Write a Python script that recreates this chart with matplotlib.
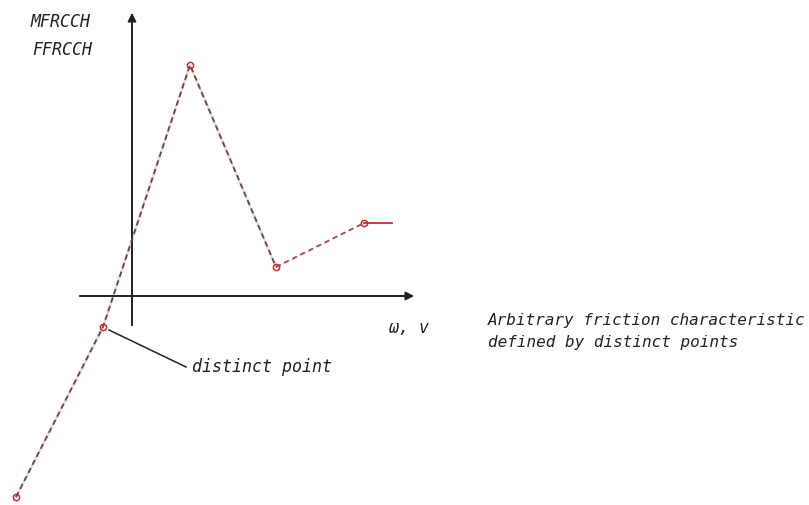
import matplotlib.pyplot as plt

# friction characteristic, distinct points (omega/v , MFRCCH/FFRCCH)
omega = [-11.6, -2.9, 5.8, 14.4, 23.2]
frc = [-20.1, -3.1, 23.1, 2.9, 7.3]
omega_end = 26.0  # constant continuation after last point

fig = plt.figure(figsize=(8.09, 5.05), dpi=100)
ax = fig.add_axes([0, 0, 1, 1])
ax.set_xlim(-13.2, 67.7)
ax.set_ylim(-20.9, 29.6)
ax.axis('off')

font = dict(family='DejaVu Sans Mono', style='oblique', fontsize=12, color='#222222')

# axes with arrows
ax.annotate('', xy=(28.5, 0), xytext=(-5.5, 0),
            arrowprops=dict(arrowstyle='-|>', color='#222222', lw=1.4, mutation_scale=12))
ax.annotate('', xy=(0, 28.6), xytext=(0, -3.2),
            arrowprops=dict(arrowstyle='-|>', color='#222222', lw=1.4, mutation_scale=12))

# dashed part of the curve, faint red under grey dashes
ax.plot(omega[:4], frc[:4], color='#f08080', lw=1.8, alpha=0.35, zorder=2)
ax.plot(omega[:4], frc[:4], color='#505050', lw=1.3, dashes=(3, 2), zorder=3)
ax.plot(omega[3:5], frc[3:5], color='#a84444', lw=1.3, dashes=(3, 2), zorder=3)
ax.plot([omega[-1], omega_end], [frc[-1], frc[-1]], color='#cc2a2a', lw=1.3, zorder=3)
ax.plot(omega, frc, 'o', ms=4.5, mfc='none', mec='#c03030', mew=1.1, zorder=4)

# leader line to the distinct point
ax.plot([omega[1] + 0.6, 5.4], [frc[1] - 0.3, -7.1], color='#222222', lw=1.1)
ax.text(6.0, -7.1, 'distinct point', va='center', ha='left', **font)

# labels
ax.text(-10.2, 27.4, 'MFRCCH', va='center', ha='left', **font)
ax.text(-10.0, 24.6, 'FFRCCH', va='center', ha='left', **font)
ax.text(25.7, -3.2, 'ω, v', va='center', ha='left', **font)
note = dict(font, fontsize=11.5)
ax.text(35.6, -2.4, 'Arbitrary friction characteristic', va='center', ha='left', **note)
ax.text(35.6, -4.6, 'defined by distinct points', va='center', ha='left', **note)

fig.savefig('out.png', dpi=100)
